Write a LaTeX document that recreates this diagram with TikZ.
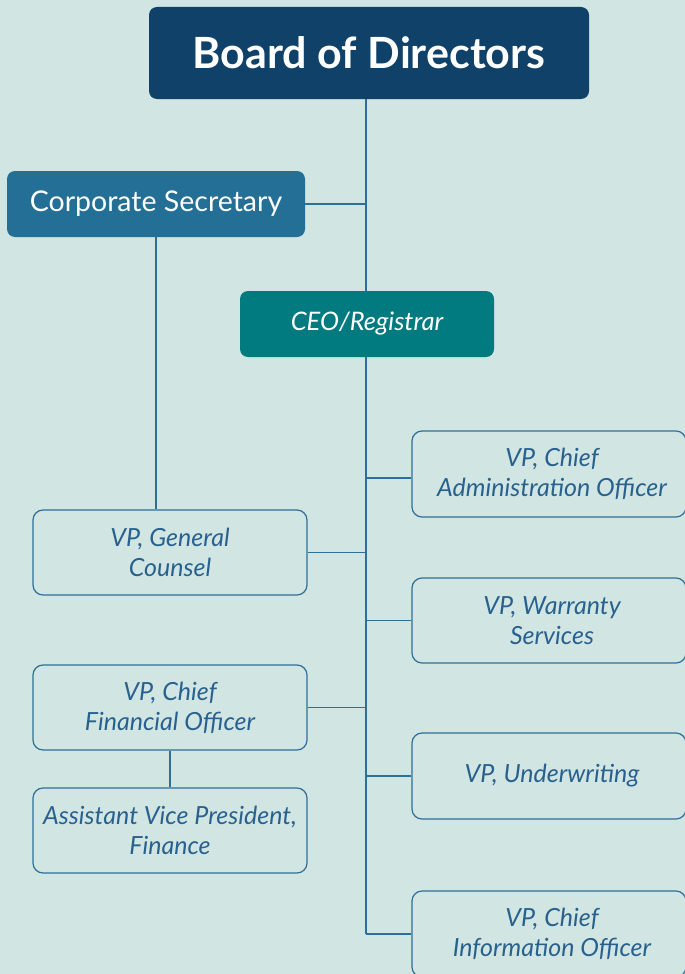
\documentclass[tikz,border=0pt]{standalone}
\usepackage{fontspec}
\setmainfont{Lato}
\definecolor{bgc}{HTML}{D1E5E3}
\definecolor{boardc}{HTML}{0F4169}
\definecolor{secc}{HTML}{246F95}
\definecolor{ceoc}{HTML}{017B80}
\definecolor{linec}{HTML}{2E6F97}
\definecolor{txtc}{HTML}{29618E}
\tikzset{
  solidbox/.style={rectangle, rounded corners=8pt, text=white, align=center, inner sep=0pt},
  rolebox/.style={rectangle, rounded corners=10pt, draw=linec, line width=1.2pt, fill=bgc,
    text=txtc, align=center, inner sep=0pt, minimum width=274pt, minimum height=85pt,
    font=\fontsize{25}{30}\selectfont\itshape},
  link/.style={draw=linec, line width=1.3pt}
}
\begin{document}
\begin{tikzpicture}[x=1pt,y=-1pt]
  \fill[bgc] (0,0) rectangle (685,974);
  \useasboundingbox (0,0) rectangle (685,974);
  \begin{scope}
    \clip (0,0) rectangle (685,974);
    % trunk line from the board down to the last vice president
    \coordinate (ttop) at (366,99);
    \coordinate (tbot) at (366,934);
    \draw[link] (ttop) -- (tbot);

    \node[solidbox, fill=boardc, minimum width=440pt, minimum height=92pt,
      font=\fontsize{43}{50}\selectfont\bfseries] (board) at (369,53) {Board of Directors};
    \node[solidbox, fill=secc, minimum width=298pt, minimum height=66pt,
      font=\fontsize{28.5}{34}\selectfont] (cs) at (156,204) {Corporate Secretary};
    \node[solidbox, fill=ceoc, minimum width=254pt, minimum height=66pt,
      font=\fontsize{25.5}{30}\selectfont\itshape] (ceo) at (367,324) {CEO/Registrar};

    \node[rolebox] (gc) at (170,552.5) {VP, General\\Counsel};
    \node[rolebox] (cfo) at (170,707.5) {VP, Chief\\Financial Officer};
    \node[rolebox] (avp) at (170,830.5) {Assistant Vice President,\\Finance};

    \node[rolebox, minimum height=86pt] (r1) at (549,474) {\hspace*{6pt}VP, Chief\\\hspace*{6pt}Administration Officer};
    \node[rolebox] (r2) at (549,620.5) {\hspace*{6pt}VP, Warranty\\\hspace*{6pt}Services};
    \node[rolebox, minimum height=86pt] (r3) at (549,776) {\hspace*{6pt}VP, Underwriting};
    \node[rolebox, minimum height=86pt] (r4) at (549,934) {\hspace*{6pt}VP, Chief\\\hspace*{6pt}Information Officer};

    % branches off the trunk
    \draw[link] (cs.east) -- (cs.east -| ttop);
    \draw[link] (cs.south) -- (cs.south |- gc.north);
    \draw[link] (gc.east) -- (gc.east -| ttop);
    \draw[link] (cfo.east) -- (cfo.east -| ttop);
    \draw[link] (cfo.south) -- (avp.north);
    \draw[link] ([yshift=-4pt]r1.west) -- ([yshift=-4pt]r1.west -| ttop);
    \draw[link] (r2.west) -- (r2.west -| ttop);
    \draw[link] (r3.west) -- (r3.west -| ttop);
    \draw[link] (r4.west) -- (r4.west -| ttop);
  \end{scope}
\end{tikzpicture}
\end{document}
